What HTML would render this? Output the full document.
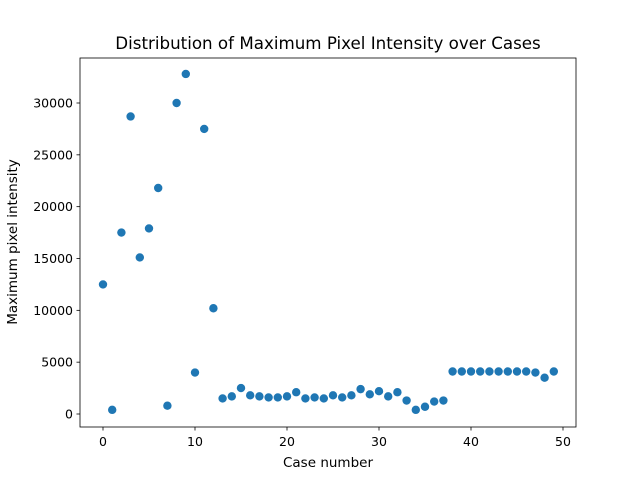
<!DOCTYPE html>
<html><head><meta charset="utf-8"><style>body{margin:0;background:#fff}svg{font-family:"DejaVu Sans","Liberation Sans",sans-serif}</style></head>
<body>
<svg id="c" width="640" height="480">
<rect x="0" y="0" width="640" height="480" fill="#fff"/>
<text x="328" y="49" font-size="16.7" text-anchor="middle">Distribution of Maximum Pixel Intensity over Cases</text>
<g id="marks"></g>
<rect x="80" y="58" width="496" height="369" fill="none" stroke="#000" stroke-width="0.8"/>
<g id="axes" font-size="12.5"></g>
<text x="328" y="467" font-size="13.5" text-anchor="middle">Case number</text>
<text x="17" y="242" font-size="13.5" text-anchor="middle" transform="rotate(-90 17 242)">Maximum pixel intensity</text>
</svg>
<script>
const cases=[];for(let i=0;i<50;i++)cases.push(i);
const intensity=[12500,400,17500,28700,15100,17900,21800,800,30000,32800,4000,27500,10200,1500,1700,2500,1800,1700,1600,1600,1700,2100,1500,1600,1500,1800,1600,1800,2400,1900,2200,1700,2100,1300,400,700,1200,1300,4100,4100,4100,4100,4100,4100,4100,4100,4100,4000,3500,4100];
const xTicks=[0,10,20,30,40,50];
const yTicks=[0,5000,10000,15000,20000,25000,30000];
const ns="http://www.w3.org/2000/svg";
function xs(v){return 103+v*9.2;}
function ys(v){return 414-v*311/30000;}
const marks=document.getElementById('marks');
cases.forEach((c,i)=>{const e=document.createElementNS(ns,'circle');
e.setAttribute('cx',xs(c));e.setAttribute('cy',ys(intensity[i]));e.setAttribute('r',4.2);e.setAttribute('fill','#1f77b4');


marks.appendChild(e);});
const ax=document.getElementById('axes');
xTicks.forEach(t=>{const l=document.createElementNS(ns,'line');l.setAttribute('x1',xs(t));l.setAttribute('x2',xs(t));l.setAttribute('y1',427);l.setAttribute('y2',430.5);l.setAttribute('stroke','#000');l.setAttribute('stroke-width','0.8');


ax.appendChild(l);
const s=document.createElementNS(ns,'text');s.setAttribute('x',xs(t));s.setAttribute('y',446);s.setAttribute('text-anchor','middle');s.textContent=t;


ax.appendChild(s);});
yTicks.forEach(t=>{const l=document.createElementNS(ns,'line');l.setAttribute('x1',76.5);l.setAttribute('x2',80);l.setAttribute('y1',ys(t));l.setAttribute('y2',ys(t));l.setAttribute('stroke','#000');l.setAttribute('stroke-width','0.8');


ax.appendChild(l);
const s=document.createElementNS(ns,'text');s.setAttribute('x',73);s.setAttribute('y',ys(t)+4.5);s.setAttribute('text-anchor','end');s.textContent=t;


ax.appendChild(s);});
</script>
</body></html>
